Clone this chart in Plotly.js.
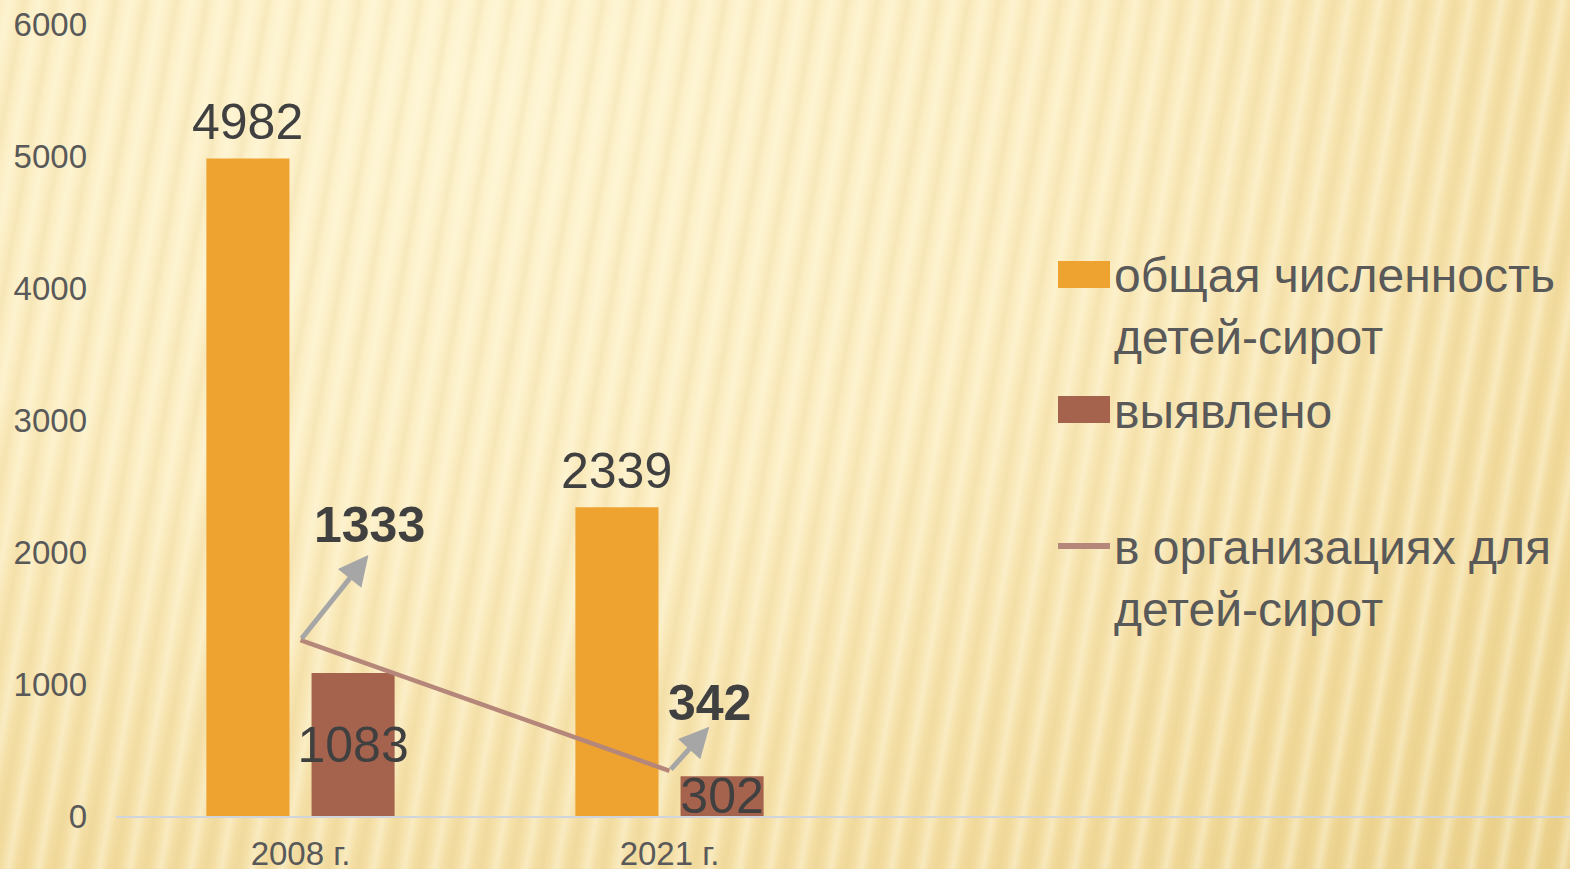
<!DOCTYPE html>
<html>
<head>
<meta charset="utf-8">
<script src="https://cdn.plot.ly/plotly-3.0.1.min.js"></script>
<style>
  html, body { margin: 0; padding: 0; width: 1570px; height: 869px; overflow: hidden; }
  body {
    background:
      repeating-linear-gradient(100deg, rgba(255,250,225,0.0) 0px, rgba(255,250,225,0.45) 9px, rgba(255,250,225,0.0) 17px, rgba(215,185,100,0.13) 24px, rgba(255,250,225,0.0) 30px),
      radial-gradient(ellipse at 30% 10%, #fdf3cf 0%, #fbecc0 40%, #f3dca0 75%, #ead08a 100%);
  }
  #chart { width: 1570px; height: 869px; }
</style>
</head>
<body>
<div id="chart"></div>
<script>
// ---- data ----
const categories = ['2008 г.', '2021 г.'];
const totalOrphans = [4982, 2339];
const identified = [1083, 302];
const inInstitutions = [1333, 342];
const seriesNames = ['общая численность<br>детей-сирот', 'выявлено', 'в организациях для<br>детей-сирот'];
const yTicks = [0, 1000, 2000, 3000, 4000, 5000, 6000];

// ---- styles ----
const W = 1570, H = 869;
const M = { l: 116, r: 0, t: 24, b: 53 };
const FONT = 'Liberation Sans, Arial, sans-serif';
const cOrange = '#EEA22F', cBrown = '#A5634E', cLine = '#B5877A', cArrow = '#A6A6A6';
const px2x = p => (p - M.l) / (W - M.l - M.r);
const py2y = p => (H - M.b - p) / (H - M.t - M.b);

const traces = [
  { type: 'bar', x: categories, y: totalOrphans, name: seriesNames[0],
    marker: { color: cOrange }, showlegend: false, hoverinfo: 'y' },
  { type: 'bar', x: categories, y: identified, name: seriesNames[1],
    marker: { color: cBrown }, showlegend: false,
    text: identified.map(String), textposition: 'inside', insidetextanchor: 'middle',
    textangle: 0, constraintext: 'none', cliponaxis: false,
    textfont: { family: FONT, size: 50, color: '#404040' } },
  { type: 'scatter', mode: 'lines', x: categories, y: inInstitutions, name: seriesNames[2],
    line: { color: cLine, width: 4.5 }, showlegend: false }
];

const annotations = [];
// labels above orange bars
totalOrphans.forEach((v, i) => annotations.push({
  x: i - 0.1435, y: v, xref: 'x', yref: 'y', text: String(v), showarrow: false,
  yanchor: 'bottom', yshift: 6, font: { family: FONT, size: 50, color: '#404040' }
}));
// arrows + bold labels for institutions line
const arrowDX = [0.184, 0.108], arrowDYpx = [85, 44];
const labDX = [0.187, 0.108], labDYpx = [115, 68];
const yPerPx = 6000 / (H - M.t - M.b);
inInstitutions.forEach((v, i) => {
  annotations.push({
    x: i + arrowDX[i], y: v + arrowDYpx[i] * yPerPx, xref: 'x', yref: 'y',
    ax: i, ay: v, axref: 'x', ayref: 'y', text: '', showarrow: true,
    arrowhead: 2, arrowsize: 1.2, arrowwidth: 5, arrowcolor: cArrow, standoff: 0, startstandoff: 0
  });
  annotations.push({
    x: i + labDX[i], y: v, xref: 'x', yref: 'y', text: String(v), showarrow: false,
    yanchor: 'middle', yshift: labDYpx[i],
    font: { family: FONT, size: 50, color: '#404040', weight: 'bold' }
  });
});

// custom legend
const legendItems = [
  { kind: 'rect', color: cOrange, y0: 261, y1: 288, textY: 306, text: seriesNames[0] },
  { kind: 'rect', color: cBrown, y0: 396, y1: 423, textY: 411, text: seriesNames[1] },
  { kind: 'line', color: cLine, y0: 546, y1: 546, textY: 578, text: seriesNames[2] }
];
const shapes = [];
legendItems.forEach(it => {
  if (it.kind === 'rect') {
    shapes.push({ type: 'rect', xref: 'paper', yref: 'paper', x0: px2x(1058), x1: px2x(1110),
      y0: py2y(it.y1), y1: py2y(it.y0), fillcolor: it.color, line: { width: 0 } });
  } else {
    shapes.push({ type: 'line', xref: 'paper', yref: 'paper', x0: px2x(1058), x1: px2x(1110),
      y0: py2y(it.y0), y1: py2y(it.y1), line: { color: it.color, width: 6 } });
  }
  annotations.push({ xref: 'paper', yref: 'paper', x: px2x(1112), y: py2y(it.textY),
    xanchor: 'left', yanchor: 'middle', align: 'left', text: it.text, showarrow: false,
    font: { family: FONT, size: 48, color: '#595959' } });
});

const layout = {
  width: W, height: H,
  margin: M,
  paper_bgcolor: 'rgba(0,0,0,0)', plot_bgcolor: 'rgba(0,0,0,0)',
  barmode: 'group', bargap: 0.43, bargroupgap: 0.21,
  showlegend: false,
  font: { family: FONT, color: '#595959' },
  xaxis: { type: 'category', range: [-0.5, (W - M.l) / 369 - 0.5], showgrid: false,
    showline: true, linecolor: '#D0D4DC', linewidth: 2, ticks: '', zeroline: false,
    tickfont: { family: FONT, size: 33, color: '#595959' }, ticklabelstandoff: 7 },
  yaxis: { range: [0, 6000], tickvals: yTicks, showgrid: false, zeroline: false, showline: false,
    ticks: '', tickfont: { family: FONT, size: 33, color: '#595959' }, ticklabelstandoff: 28 },
  shapes: shapes,
  annotations: annotations
};

Plotly.newPlot('chart', traces, layout, { displayModeBar: false, staticPlot: true });
</script>
</body>
</html>
